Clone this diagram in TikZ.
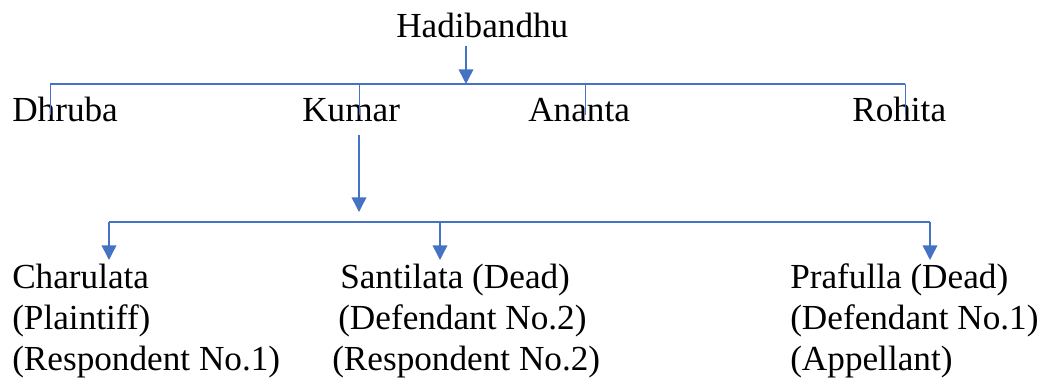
\documentclass[tikz,border=0pt]{standalone}
\usepackage{fontspec}
\setmainfont{Liberation Serif}
\usetikzlibrary{positioning,arrows.meta}
\definecolor{linkblue}{RGB}{68,114,196}
\tikzset{
  person/.style={font=\fontsize{26.4}{30.75}\selectfont, inner sep=0pt, align=left, anchor=base west},
  arr/.style={draw=linkblue, line width=1.1pt, -{Triangle[length=11pt,width=11pt]}},
  bus/.style={draw=linkblue, line width=1.4pt},
  tick/.style={draw=linkblue, line width=0.7pt}
}
\begin{document}
\begin{tikzpicture}[x=0.75pt,y=-0.75pt]
\useasboundingbox (0,0) rectangle (1046,379);

%Names
\node[person] (hadi) at (396,37) {Hadibandhu};
\node[person] (dhruba) at (12,121) {Dhruba};
\node[person] (kumar) at (302,121) {Kumar};
\node[person] (ananta) at (528,121) {Ananta};
\node[person] (rohita) at (852,121) {Rohita};
%base is on the last line here
\node[person] (charu) at (12,370) {Charulata\\(Plaintiff)\\(Respondent No.1)};
\node[person] (santi) at (332,370) {\hspace*{6pt}Santilata (Dead)\\\hspace*{4.5pt}(Defendant No.2)\\(Respondent No.2)};
\node[person] (prafu) at (790,370) {Prafulla (Dead)\\(Defendant No.1)\\(Appellant)};

%Bus lines
\coordinate (hbus) at (466,84);
\coordinate (busL) at (50,84);
\coordinate (busR) at (905,84);
\coordinate (kbus) at (359,222);
\coordinate (cL) at (109,222);
\coordinate (cR) at (930,222);

%Hadibandhu to his sons
\draw[arr] ([yshift=-6pt]hadi.south -| hbus) -- (hbus);
\draw[bus] (busL) -- (busR);
\foreach \n/\x in {dhruba/50,kumar/359,ananta/585,rohita/905}
  \draw[tick] (\x,84) -- ([yshift=4.5pt]\n.base -| \x,0);

%Kumar to his children
\draw[arr] ([yshift=-10.5pt]kumar.base -| kbus) -- ([yshift=7.5pt]kbus);
\draw[bus] (cL) -- (cR);
\foreach \n/\x in {charu/109,santi/440,prafu/930}
  \draw[arr] (\x,222) -- ([yshift=82.5pt]\n.base -| \x,0);

\end{tikzpicture}
\end{document}
